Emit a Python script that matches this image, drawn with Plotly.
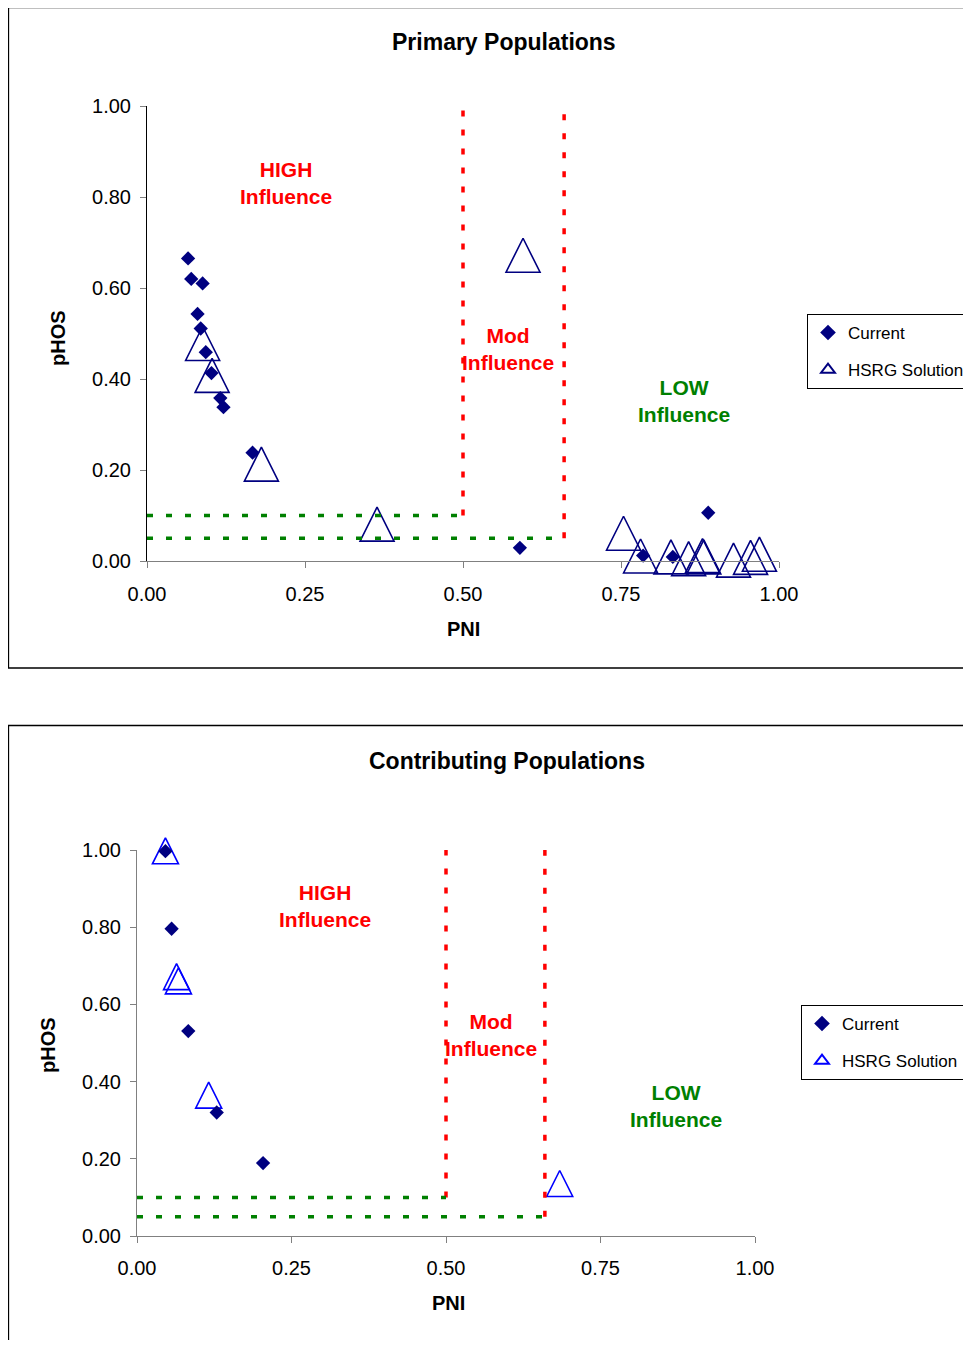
import plotly.graph_objects as go

# The page adds an 8px body margin; the figure is sized and positioned so that
# page pixel p maps to figure pixel p - 8 and the page does not overflow.
OFF = 8
W, H = 971 - OFF, 1348 - 2 * OFF
FONT = "Liberation Sans, Arial, Helvetica, sans-serif"

# ---------------- data ----------------
x_tick_vals = [0.0, 0.25, 0.5, 0.75, 1.0]
x_tick_text = ["0.00", "0.25", "0.50", "0.75", "1.00"]
y_tick_vals = [0.0, 0.2, 0.4, 0.6, 0.8, 1.0]
y_tick_text = ["0.00", "0.20", "0.40", "0.60", "0.80", "1.00"]

primary_current_pni = [0.065, 0.070, 0.088, 0.080, 0.085, 0.093, 0.102, 0.116, 0.121, 0.167, 0.590, 0.785, 0.832, 0.888]
primary_current_phos = [0.665, 0.620, 0.610, 0.543, 0.511, 0.459, 0.413, 0.358, 0.338, 0.238, 0.029, 0.012, 0.009, 0.106]

primary_hsrg_pni = [0.088, 0.103, 0.181, 0.364, 0.595, 0.754, 0.781, 0.829, 0.857, 0.879, 0.881, 0.928, 0.955, 0.969]
primary_hsrg_phos = [0.478, 0.408, 0.213, 0.081, 0.672, 0.061, 0.011, 0.009, 0.005, 0.012, 0.009, 0.002, 0.008, 0.015]

contrib_current_pni = [0.046, 0.056, 0.083, 0.129, 0.204]
contrib_current_phos = [0.997, 0.796, 0.531, 0.320, 0.189]

contrib_hsrg_pni = [0.046, 0.064, 0.067, 0.116, 0.684]
contrib_hsrg_phos = [0.998, 0.672, 0.661, 0.365, 0.136]

pni_limits = [0.50, 0.66]
phos_limits = [0.10, 0.05]

series_names = ["Current", "HSRG Solution"]
zone_labels = ["HIGH<br>Influence", "Mod<br>Influence", "LOW<br>Influence"]
primary_zone_pos = [(0.220, 0.830), (0.571, 0.467), (0.850, 0.352)]
contrib_zone_pos = [(0.304, 0.856), (0.573, 0.522), (0.872, 0.338)]
zone_colors = ["#FF0000", "#FF0000", "#008000"]

NAVY = "#000080"
BLUE = "#0000FF"


def px_x(p):
    return (p - OFF) / W


def px_y(p):
    return 1 - (p - OFF) / H


def tri_marker(size, color):
    # isosceles triangle whose bounding box is centred on the data point
    return dict(symbol="arrow-down-open", angle=180, standoff=size / 2.0, size=size,
                color=color, line=dict(width=1.6, color=color))


fig = go.Figure()

# ---- top chart ----
fig.add_trace(go.Scatter(
    x=primary_hsrg_pni, y=primary_hsrg_phos, mode="markers", name=series_names[1],
    xaxis="x", yaxis="y", showlegend=False, cliponaxis=False,
    marker=tri_marker(34, NAVY),
))
fig.add_trace(go.Scatter(
    x=primary_current_pni, y=primary_current_phos, mode="markers", name=series_names[0],
    xaxis="x", yaxis="y", legend="legend", legendgroup="c1", legendrank=1,
    cliponaxis=False,
    marker=dict(symbol="diamond", size=11, color=NAVY, line=dict(width=0)),
))
fig.add_trace(go.Scatter(
    x=[None], y=[None], mode="markers", name=series_names[1],
    xaxis="x", yaxis="y", legend="legend", legendgroup="h1", legendrank=2,
    marker=dict(symbol="triangle-up-open", size=12, color=NAVY, line=dict(width=1.4, color=NAVY)),
))

# ---- bottom chart ----
fig.add_trace(go.Scatter(
    x=contrib_hsrg_pni, y=contrib_hsrg_phos, mode="markers", name=series_names[1],
    xaxis="x2", yaxis="y2", showlegend=False, cliponaxis=False,
    marker=tri_marker(26, BLUE),
))
fig.add_trace(go.Scatter(
    x=contrib_current_pni, y=contrib_current_phos, mode="markers", name=series_names[0],
    xaxis="x2", yaxis="y2", legend="legend2", legendgroup="c2", legendrank=1,
    cliponaxis=False,
    marker=dict(symbol="diamond", size=11, color=NAVY, line=dict(width=0)),
))
fig.add_trace(go.Scatter(
    x=[None], y=[None], mode="markers", name=series_names[1],
    xaxis="x2", yaxis="y2", legend="legend2", legendgroup="h2", legendrank=2,
    marker=dict(symbol="triangle-up-open", size=12, color=BLUE, line=dict(width=1.4, color=BLUE)),
))

shapes = []
DASH = "6px,13px"
for xr, yr in (("x", "y"), ("x2", "y2")):
    # red vertical limits
    shapes.append(dict(type="line", xref=xr, yref=yr, x0=pni_limits[0], x1=pni_limits[0],
                       y0=phos_limits[0], y1=1.0, line=dict(color="#FF0000", width=3.5, dash=DASH)))
    shapes.append(dict(type="line", xref=xr, yref=yr, x0=pni_limits[1], x1=pni_limits[1],
                       y0=phos_limits[1], y1=1.0, line=dict(color="#FF0000", width=3.5, dash=DASH)))
    # green horizontal limits
    shapes.append(dict(type="line", xref=xr, yref=yr, x0=0, x1=pni_limits[0],
                       y0=phos_limits[0], y1=phos_limits[0], line=dict(color="#008000", width=3.5, dash=DASH)))
    shapes.append(dict(type="line", xref=xr, yref=yr, x0=0, x1=pni_limits[1],
                       y0=phos_limits[1], y1=phos_limits[1], line=dict(color="#008000", width=3.5, dash=DASH)))

# panel borders
shapes.append(dict(type="rect", xref="paper", yref="paper", x0=px_x(8.5), x1=1.05,
                   y0=px_y(668), y1=px_y(7.5), line=dict(color="black", width=1.3), fillcolor="rgba(0,0,0,0)"))
shapes.append(dict(type="rect", xref="paper", yref="paper", x0=px_x(8.5), x1=1.05,
                   y0=-0.05, y1=px_y(725.5), line=dict(color="black", width=1.3), fillcolor="rgba(0,0,0,0)"))

annotations = []
for (xx, yy), txt, col in zip(primary_zone_pos, zone_labels, zone_colors):
    annotations.append(dict(x=xx, y=yy, xref="x", yref="y", text="<b>%s</b>" % txt, showarrow=False,
                            font=dict(family=FONT, size=21, color=col), align="center"))
for (xx, yy), txt, col in zip(contrib_zone_pos, zone_labels, zone_colors):
    annotations.append(dict(x=xx, y=yy, xref="x2", yref="y2", text="<b>%s</b>" % txt, showarrow=False,
                            font=dict(family=FONT, size=21, color=col), align="center"))

# titles and axis titles
text_items = [
    ("<b>Primary Populations</b>", 504, 42, 23, 0),
    ("<b>Contributing Populations</b>", 507, 761, 23, 0),
    ("<b>PNI</b>", 463, 629, 20, 0),
    ("<b>PNI</b>", 448, 1303, 20, 0),
    ("<b>pHOS</b>", 58, 338, 20, -90),
    ("<b>pHOS</b>", 48, 1045, 20, -90),
]
for txt, xp, yp, fs, ang in text_items:
    annotations.append(dict(x=px_x(xp), y=px_y(yp), xref="paper", yref="paper", text=txt,
                            showarrow=False, textangle=ang, xanchor="center", yanchor="middle",
                            font=dict(family=FONT, size=fs, color="black")))

axis_common = dict(range=[0, 1], showgrid=False, zeroline=False, showline=True,
                   ticks="outside", ticklen=6, tickwidth=1, tickcolor="#808080",
                   tickfont=dict(family=FONT, size=20, color="black"), fixedrange=True)

legend_common = dict(xanchor="left", yanchor="top", bgcolor="white", bordercolor="black",
                     borderwidth=1, font=dict(family=FONT, size=17, color="black"),
                     itemsizing="constant", traceorder="grouped", tracegroupgap=12)

fig.update_layout(
    width=W, height=H,
    margin=dict(l=0, r=0, t=0, b=0, autoexpand=False),
    paper_bgcolor="white", plot_bgcolor="white",
    font=dict(family=FONT, color="black"),
    xaxis=dict(domain=[px_x(147), px_x(779)], anchor="y", tickvals=x_tick_vals, ticktext=x_tick_text,
               linecolor="#808080", ticklabelstandoff=9, **axis_common),
    yaxis=dict(domain=[px_y(561), px_y(106)], anchor="x", tickvals=y_tick_vals, ticktext=y_tick_text,
               linecolor="black", ticklabelstandoff=5, **axis_common),
    xaxis2=dict(domain=[px_x(137), px_x(755)], anchor="y2", tickvals=x_tick_vals, ticktext=x_tick_text,
                linecolor="#808080", ticklabelstandoff=8, **axis_common),
    yaxis2=dict(domain=[px_y(1236), px_y(850)], anchor="x2", tickvals=y_tick_vals, ticktext=y_tick_text,
                linecolor="#808080", ticklabelstandoff=5, **axis_common),
    legend=dict(x=px_x(807), y=px_y(314), **legend_common),
    legend2=dict(x=px_x(801), y=px_y(1005), **legend_common),
    shapes=shapes,
    annotations=annotations,
    showlegend=True,
)

fig.write_html("out.html")
